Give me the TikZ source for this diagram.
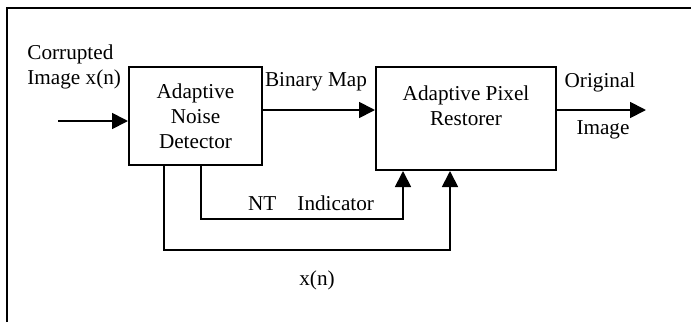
\documentclass[tikz,border=0pt]{standalone}
\usepackage{fontspec}
\setmainfont{Liberation Serif}
\usetikzlibrary{arrows.meta}

\begin{document}
\begin{tikzpicture}[
    x=0.5pt, y=-0.5pt,
    font=\fontsize{10.6}{12.5}\selectfont,
    box/.style={draw, rectangle, line width=1pt, align=center, inner sep=0pt},
    arrow/.style={-{Triangle[length=8pt, width=8pt]}, line width=0.9pt},
    lbl/.style={inner sep=0pt, align=center}
]
\useasboundingbox (0,0) rectangle (691,322);

% Frame
\coordinate (fbl) at (7,322);
\coordinate (ftl) at (7,8);
\coordinate (ftr) at (691,8);
\draw[line width=1pt] (fbl) -- (ftl) -- (ftr);

% Nodes
\node[box, minimum width=66.5pt, minimum height=49pt] (det) at (195.5,116) {Adaptive\\Noise\\Detector};
\node[box, minimum width=90pt, minimum height=51.5pt] (apr) at (466,118.5) {Adaptive Pixel\\Restorer\\\mbox{}};

% Labels
\node[lbl, align=left, anchor=west] (inlbl) at (27,67) {Corrupted\\Image x(n)};
\node[lbl] (bmlbl) at (316,82) {Binary Map};
\node[lbl] (orlbl) at (600,82) {Original};
\node[lbl] (imlbl) at (603,130) {Image};
\node[lbl] (ntlbl) at (311,203) {NT\quad Indicator};
\node[lbl] (xnlbl) at (317,280) {x(n)};

% Helper coordinates
\coordinate (src) at (58,121);
\coordinate (lvl) at (0,110);
\coordinate (dst) at (646,110);
\coordinate (nt) at (201,219);
\coordinate (xn) at (164,250);
\coordinate (ntin) at (403,0);
\coordinate (xnin) at (450,0);

% Arrows
\draw[arrow] (src) -- (src -| det.west);
\draw[arrow] (det.east |- lvl) -- (apr.west |- lvl);
\draw[arrow] (apr.east |- dst) -- (dst);
\draw[arrow] (det.south -| nt) |- (nt -| ntin) -- (ntin |- apr.south);
\draw[arrow] (det.south -| xn) |- (xn -| xnin) -- (xnin |- apr.south);
\end{tikzpicture}
\end{document}
